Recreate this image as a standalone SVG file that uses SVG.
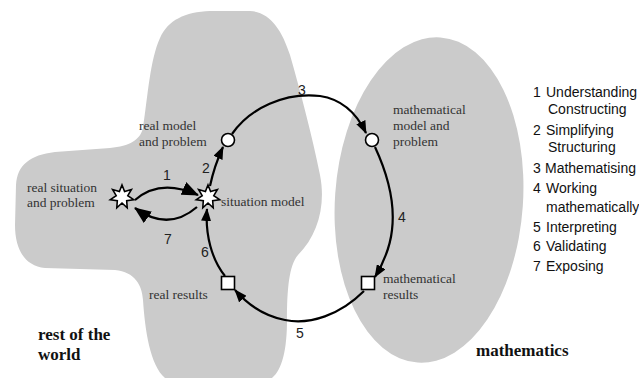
<svg xmlns="http://www.w3.org/2000/svg" xmlns:xlink="http://www.w3.org/1999/xlink" width="639" height="378" viewBox="0 0 639 378">
<style>
.region{fill:#cbcbcb;stroke:none}
.lbl{font-family:"Liberation Serif","Times New Roman",serif;font-size:13.5px;fill:#333}
.big{font-family:"Liberation Serif","Times New Roman",serif;font-size:17px;font-weight:bold;fill:#111}
.num{font-family:"Liberation Sans",Arial,sans-serif;font-size:14px;fill:#222;text-anchor:middle}
.leg{font-family:"Liberation Sans",Arial,sans-serif;font-size:14px;fill:#111}
.arc{fill:none;stroke:#000;stroke-width:2.2}
.shape{fill:#fff;stroke:#000;stroke-width:1.6}
</style>
<defs>
<marker id="ah" markerUnits="userSpaceOnUse" markerWidth="13" markerHeight="10" refX="12" refY="5" orient="auto"><path d="M0,0 L13,5 L0,10 Z" fill="#000"/></marker>
<marker id="ahb" markerUnits="userSpaceOnUse" markerWidth="17" markerHeight="14" refX="16" refY="7" orient="auto"><path d="M0,0 L17,7 L0,14 Z" fill="#000"/></marker>
<polygon id="star" points="0,-12 2.6,-5.4 9.4,-7.5 5.8,-1.3 11.7,2.7 4.7,3.7 5.2,10.8 0,6 -5.2,10.8 -4.7,3.7 -11.7,2.7 -5.8,-1.3 -9.4,-7.5 -2.6,-5.4" class="shape"/>
</defs>
<rect width="639" height="378" fill="#fff"/>
<g id="rest-of-world">
<path class="region" d="M143,128 C148,95 150,60 160,38 C168,20 185,12 210,11 L250,11 C270,12 282,30 290,55 C300,90 312,135 320,175 C326,205 318,235 298,255 C289,265 287,290 287,320 C287,350 282,370 272,378 L165,378 C150,365 145,330 143,300 C142,285 135,272 115,270 L45,268 C25,266 15,250 15,225 L16,185 C17,165 30,155 55,152 L110,148 C130,146 140,140 143,128 Z"/>
<text class="big" x="38" y="340">rest of the</text>
<text class="big" x="38" y="360">world</text>
</g>
<g id="mathematics">
<ellipse class="region" cx="429" cy="200" rx="94" ry="163" transform="rotate(4 429 200)"/>
<text class="big" x="476" y="356">mathematics</text>
</g>
<g id="connectors">
<path class="arc" marker-end="url(#ahb)" d="M135,200 Q160,178 198,195"/>
<path class="arc" marker-end="url(#ahb)" d="M197,207 Q168,232 135,208"/>
<path class="arc" marker-end="url(#ah)" d="M210,186 C213,172 217,160 223,147"/>
<path class="arc" marker-end="url(#ah)" d="M232,134 C250,108 285,92 320,96 C340,99 356,112 366,133"/>
<path class="arc" marker-end="url(#ah)" d="M375,147 C388,175 395,205 392,230 C390,248 384,262 375,277"/>
<path class="arc" marker-end="url(#ah)" d="M364,291 C340,315 310,325 285,320 C265,316 248,305 235,290"/>
<path class="arc" marker-end="url(#ah)" d="M225,276 C212,260 205,235 207,209"/>
<text class="num" x="167" y="180">1</text>
<text class="num" x="206" y="173">2</text>
<text class="num" x="302" y="95">3</text>
<text class="num" x="402" y="222">4</text>
<text class="num" x="300" y="338">5</text>
<text class="num" x="205" y="257">6</text>
<text class="num" x="168" y="244">7</text>
</g>
<g id="real-situation">
<use xlink:href="#star" href="#star" x="122" y="197"/>
<text class="lbl" x="27" y="192">real situation</text>
<text class="lbl" x="27" y="207">and problem</text>
</g>
<g id="situation-model">
<use xlink:href="#star" href="#star" x="208" y="197"/>
<text class="lbl" x="221" y="206">situation model</text>
</g>
<g id="real-model">
<circle class="shape" cx="228" cy="140" r="6.5"/>
<text class="lbl" x="139" y="130">real model</text>
<text class="lbl" x="139" y="146">and problem</text>
</g>
<g id="math-model">
<circle class="shape" cx="372" cy="140" r="6.5"/>
<text class="lbl" x="393" y="114">mathematical</text>
<text class="lbl" x="393" y="130">model and</text>
<text class="lbl" x="393" y="146">problem</text>
</g>
<g id="math-results">
<rect class="shape" x="361.5" y="276.5" width="13" height="13"/>
<text class="lbl" x="383" y="283">mathematical</text>
<text class="lbl" x="383" y="299">results</text>
</g>
<g id="real-results">
<rect class="shape" x="221.5" y="276.5" width="13" height="13"/>
<text class="lbl" x="149" y="299">real results</text>
</g>
<g id="legend">
<text class="leg" x="533" y="97">1</text><text class="leg" x="546" y="97">Understanding</text>
<text class="leg" x="548" y="114">Constructing</text>
<text class="leg" x="533" y="135">2</text><text class="leg" x="546" y="135">Simplifying</text>
<text class="leg" x="548" y="152">Structuring</text>
<text class="leg" x="533" y="173">3</text><text class="leg" x="545" y="173">Mathematising</text>
<text class="leg" x="533" y="193">4</text><text class="leg" x="546" y="193">Working</text>
<text class="leg" x="546" y="212">mathematically</text>
<text class="leg" x="533" y="232">5</text><text class="leg" x="546" y="232">Interpreting</text>
<text class="leg" x="533" y="251">6</text><text class="leg" x="546" y="251">Validating</text>
<text class="leg" x="533" y="271">7</text><text class="leg" x="546" y="271">Exposing</text>
</g>
</svg>
